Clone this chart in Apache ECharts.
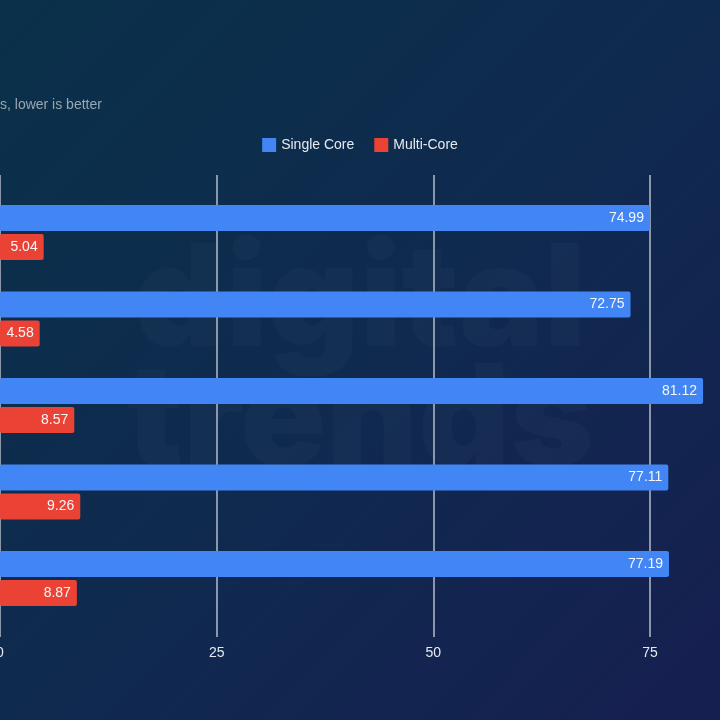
<!DOCTYPE html>
<html>
<head>
<meta charset="utf-8">
<script src="https://cdn.jsdelivr.net/npm/echarts@6/dist/echarts.min.js"></script>
<style>
  html, body { margin: 0; padding: 0; }
  #chart { width: 720px; height: 720px; background: linear-gradient(135deg, #0a3149 0%, #0f2a4f 50%, #161f50 100%); }
</style>
</head>
<body>
<div id="chart"></div>
<script>
const categories = ['Device 1', 'Device 2', 'Device 3', 'Device 4', 'Device 5'];
const singleCore = [74.99, 72.75, 81.12, 77.11, 77.19];
const multiCore = [5.04, 4.58, 8.57, 9.26, 8.87];
const seriesNames = ['Single Core', 'Multi-Core'];
const xTicks = { min: 0, max: 100, interval: 25 };
const subtitleText = 's, lower is better';

const chart = echarts.init(document.getElementById('chart'), null, { renderer: 'canvas' });
const font = 'Liberation Sans, Arial, sans-serif';
const labelStyle = {
  show: true, position: 'insideRight', color: '#f4f6fa', fontSize: 14,
  fontFamily: font, distance: 6,
  formatter: p => p.value.toFixed(2)
};
chart.setOption({
  backgroundColor: 'transparent',
  animation: false,
  title: {
    text: subtitleText,
    left: 0, top: 98, padding: 0,
    textStyle: { color: '#9aa6b2', fontSize: 14, fontWeight: 'normal', fontFamily: font }
  },
  legend: {
    top: 138, left: 'center',
    itemWidth: 14, itemHeight: 14, itemGap: 20, padding: 0,
    icon: 'rect',
    textStyle: { color: '#e6eaf0', fontSize: 14, fontFamily: font },
    data: seriesNames
  },
  graphic: [
    { type: 'text', left: 'center', top: 232, z: -10, silent: true,
      style: { text: 'digital', fontSize: 142, fontWeight: 900, fontFamily: 'Inter, Lato, sans-serif', fill: 'rgba(255,255,255,0.022)' } },
    { type: 'text', left: 'center', top: 352, z: -10, silent: true,
      style: { text: 'trends', fontSize: 142, fontWeight: 900, fontFamily: 'Inter, Lato, sans-serif', fill: 'rgba(255,255,255,0.022)' } }
  ],
  grid: [
    { left: 0, right: -146.7, top: 189.25, bottom: 98.25, containLabel: false, outerBoundsMode: 'none' },
    { left: 0, right: -146.7, top: 175, bottom: 83, containLabel: false, outerBoundsMode: 'none' }
  ],
  xAxis: [
    { type: 'value', gridIndex: 0, min: xTicks.min, max: xTicks.max, interval: xTicks.interval,
      axisLine: { show: false }, axisTick: { show: false }, axisLabel: { show: false }, splitLine: { show: false } },
    { type: 'value', gridIndex: 1, min: xTicks.min, max: xTicks.max, interval: xTicks.interval,
      axisLine: { show: false }, axisTick: { show: false },
      axisLabel: { color: '#e6eaf0', fontSize: 14, fontFamily: font, margin: 9 },
      splitLine: { show: true, lineStyle: { color: '#b4bcc8', width: 1.5 } } }
  ],
  yAxis: [
    { type: 'category', gridIndex: 0, data: categories, inverse: true,
      axisLine: { show: false }, axisTick: { show: false }, axisLabel: { show: false } },
    { type: 'category', gridIndex: 1, data: categories, inverse: true,
      axisLine: { show: false }, axisTick: { show: false }, axisLabel: { show: false } }
  ],
  series: [
    { name: seriesNames[0], type: 'bar', xAxisIndex: 0, yAxisIndex: 0, data: singleCore,
      barWidth: 26, barGap: '11%', z: 3,
      itemStyle: { color: '#4285f4', borderRadius: 2 }, label: labelStyle },
    { name: seriesNames[1], type: 'bar', xAxisIndex: 0, yAxisIndex: 0, data: multiCore,
      barWidth: 26, barGap: '11%', z: 3,
      itemStyle: { color: '#ea4335', borderRadius: 2 }, label: labelStyle }
  ]
});
</script>
</body>
</html>
